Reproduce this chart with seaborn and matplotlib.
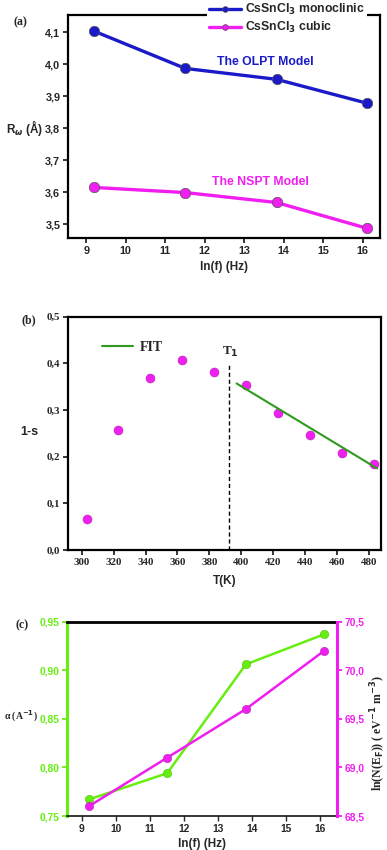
import numpy as np
import pandas as pd
import matplotlib
matplotlib.use("Agg")
import matplotlib.pyplot as plt
from matplotlib.ticker import FuncFormatter, MultipleLocator
import seaborn as sns

# ---------------- data ----------------
lnf = [9.21, 11.51, 13.82, 16.12]
r_mono = [4.103, 3.987, 3.953, 3.878]
r_cubic = [3.615, 3.599, 3.568, 3.487]

T = [303, 323, 343, 363, 383, 403, 423, 443, 463, 483]
one_minus_s = [0.066, 0.257, 0.368, 0.408, 0.381, 0.353, 0.294, 0.247, 0.207, 0.184]
fit_T = [397, 485]
fit_y = [0.357, 0.175]
T1 = 392

alpha = [0.767, 0.794, 0.906, 0.937]
lnN = [68.60, 69.10, 69.60, 70.20]

lab_mono = r"CsSnCl$_\mathbf{3}$ monoclinic"
lab_cub = r"CsSnCl$_\mathbf{3}$ cubic"

# ---------------- style ----------------
sns.set_style("ticks")
plt.rcParams["font.family"] = ["Liberation Sans", "DejaVu Sans"]
plt.rcParams["font.weight"] = "bold"
plt.rcParams["mathtext.fontset"] = "dejavusans"

BLUE = "#1a1ac8"
MAG = "#f01ef0"
GREEN_FIT = "#2e9a1e"
GREEN = "#66ee11"
SERIF = ["Liberation Serif", "DejaVu Serif"]

fig = plt.figure(figsize=(3.87, 8.5), dpi=100)


def comma_fmt(nd):
    return FuncFormatter(lambda v, p: f"{v:.{nd}f}".replace(".", ","))


def style_axes(ax, lw=1.6, fs=7.8, family=None):
    for s in ax.spines.values():
        s.set_linewidth(lw)
        s.set_color("black")
    ax.tick_params(direction="out", length=3.5, width=1.3, labelsize=fs, pad=2)
    for lab in ax.get_xticklabels() + ax.get_yticklabels():
        lab.set_fontweight("bold")
        if family:
            lab.set_family(family)


# ---------------- panel (a) ----------------
ax1 = fig.add_axes([68 / 387, 1 - 238 / 850, 312 / 387, 223 / 850])
df_a = pd.DataFrame({
    "lnf": lnf * 2,
    "R": r_mono + r_cubic,
    "phase": [lab_mono] * len(lnf) + [lab_cub] * len(lnf),
})
sns.lineplot(data=df_a, x="lnf", y="R", hue="phase",
             palette={lab_mono: BLUE, lab_cub: MAG},
             marker="o", markersize=7.5, linewidth=2.4,
             markeredgecolor="#555555", markeredgewidth=0.5, ax=ax1)
ax1.set_xlim(8.54, 16.44)
ax1.set_ylim(3.457, 4.154)
ax1.set_xticks(range(9, 17))
ax1.set_yticks([3.5, 3.6, 3.7, 3.8, 3.9, 4.0, 4.1])
ax1.yaxis.set_major_formatter(comma_fmt(1))
ax1.set_xlabel("ln(f) (Hz)", fontsize=8.5, fontweight="bold", labelpad=4)
ax1.set_ylabel("")
style_axes(ax1)
leg = ax1.legend(loc="upper right", bbox_to_anchor=(367 / 387, 1.0),
                 bbox_transform=fig.transFigure, fontsize=8.8,
                 frameon=True, framealpha=1, edgecolor="none",
                 handlelength=2.6, markerscale=0.55, borderpad=0.15,
                 labelspacing=0.25, handletextpad=0.4, borderaxespad=0)
for t in leg.get_texts():
    t.set_fontweight("bold")
ax1.text(13.53, 4.008, "The OLPT Model", color=BLUE, fontsize=8.8,
         fontweight="bold", ha="center", va="center")
ax1.text(13.4, 3.633, "The NSPT Model", color=MAG, fontsize=8.8,
         fontweight="bold", ha="center", va="center")
fig.text(13 / 387, 1 - 22 / 850, "(a)", family=SERIF, fontsize=8.5,
         fontweight="bold", ha="left", va="center")
fig.text(6 / 387, 1 - 128 / 850, r"R$_{\omega}$ (Å)", fontsize=8.5,
         fontweight="bold", ha="left", va="center")

# ---------------- panel (b) ----------------
ax2 = fig.add_axes([68 / 387, 1 - 550 / 850, 313 / 387, 233.3 / 850])
sns.scatterplot(x=T, y=one_minus_s, color=MAG, s=42, edgecolor="#aa33aa",
                linewidth=0.4, ax=ax2, zorder=3)
sns.lineplot(x=fit_T, y=fit_y, color=GREEN_FIT, linewidth=1.5,
             label="FIT", ax=ax2, zorder=4)
ax2.vlines(T1, 0, 0.396, colors="black", linestyles=(0, (3, 2)), linewidth=1.0)
ax2.text(T1 + 1, 0.425, r"T$_\mathbf{1}$", family=SERIF, fontsize=9.5,
         fontweight="bold", ha="center", va="center")
ax2.set_xlim(291.4, 487.5)
ax2.set_ylim(0, 0.5)
ax2.set_xticks(range(300, 481, 20))
ax2.yaxis.set_major_locator(MultipleLocator(0.1))
ax2.yaxis.set_major_formatter(comma_fmt(1))
ax2.set_xlabel("T(K)", fontsize=8.5, fontweight="bold", labelpad=6)
style_axes(ax2, family=SERIF)
leg2 = ax2.legend(loc="upper left", bbox_to_anchor=(0.07, 0.95), frameon=False,
                  prop={"family": SERIF, "size": 10, "weight": "bold"},
                  handlelength=2.2, handletextpad=0.5)
fig.text(22 / 387, 1 - 320 / 850, "(b)", family=SERIF, fontsize=8.5,
         fontweight="bold", ha="left", va="center")
fig.text(20 / 387, 1 - 432 / 850, "1-s", fontsize=9,
         fontweight="bold", ha="left", va="center")

# ---------------- panel (c) ----------------
ax3 = fig.add_axes([66.7 / 387, 1 - 816 / 850, 270.3 / 387, 194.3 / 850])
sns.lineplot(x=lnf, y=alpha, color=GREEN, marker="o", markersize=6,
             linewidth=1.8, markeredgecolor="#55bb11", markeredgewidth=0.4, ax=ax3)
ax4 = ax3.twinx()
sns.lineplot(x=lnf, y=lnN, color=MAG, marker="o", markersize=6,
             linewidth=1.8, markeredgecolor="#aa33aa", markeredgewidth=0.4, ax=ax4)
ax3.set_xlim(8.56, 16.5)
ax3.set_ylim(0.75, 0.95)
ax4.set_ylim(68.5, 70.5)
ax3.set_xticks(range(9, 17))
ax3.set_yticks([0.75, 0.80, 0.85, 0.90, 0.95])
ax4.set_yticks([68.5, 69.0, 69.5, 70.0, 70.5])
ax3.yaxis.set_major_formatter(comma_fmt(2))
ax4.yaxis.set_major_formatter(comma_fmt(1))
ax3.set_xlabel("ln(f) (Hz)", fontsize=8.5, fontweight="bold", labelpad=3)
ax3.set_ylabel("")
ax4.set_ylabel("")
style_axes(ax3, fs=7.4)
style_axes(ax4, fs=7.4)
ax3.spines["left"].set_color(GREEN)
ax3.spines["left"].set_linewidth(2.2)
ax3.spines["right"].set_visible(False)
ax3.spines["top"].set_linewidth(2.0)
ax3.spines["bottom"].set_linewidth(1.1)
ax4.spines["left"].set_visible(False)
ax4.spines["top"].set_visible(False)
ax4.spines["bottom"].set_visible(False)
ax4.spines["right"].set_color(MAG)
ax4.spines["right"].set_linewidth(2.2)
ax3.tick_params(axis="y", colors=GREEN, labelcolor=GREEN)
ax4.tick_params(axis="y", colors=MAG, labelcolor=MAG)
ax3.tick_params(axis="x", width=1.0)
fig.text(16 / 387, 1 - 625 / 850, "(c)", family=SERIF, fontsize=8.5,
         fontweight="bold", ha="left", va="center")
fig.text(4 / 387, 1 - 716 / 850, r"α (A$^{-1}$)",
         family=SERIF, fontsize=7, fontweight="bold", ha="left", va="center")
fig.text(378 / 387, 1 - 733 / 850,
         r"ln(N(E$_\mathbf{F}$)) ( eV$^{-1}$ m$^{-3}$)",
         family=SERIF, fontsize=8.5, fontweight="bold", rotation=90,
         ha="center", va="center")

fig.savefig("out.png", dpi=100)
